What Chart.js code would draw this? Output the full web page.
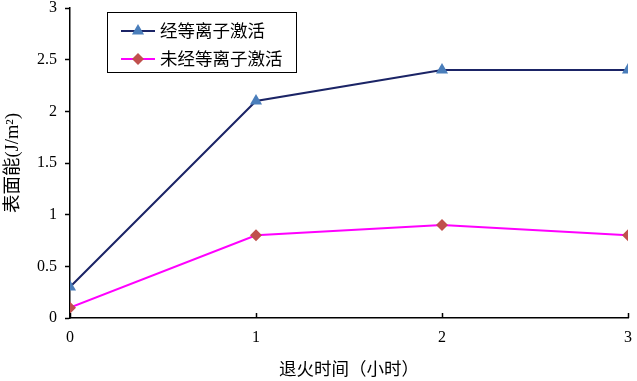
<!DOCTYPE html>
<html>
<head>
<meta charset="utf-8">
<script src="https://cdn.jsdelivr.net/npm/chart.js@4/dist/chart.umd.min.js"></script>
<style>
  html, body { margin: 0; padding: 0; background: #fff; }
  #wrap { width: 637px; height: 381px; }
</style>
</head>
<body>
<div id="wrap"><canvas id="myChart"></canvas></div>
<script>
const hours = [0, 1, 2, 3];
const activated = [0.3, 2.1, 2.4, 2.4];
const notActivated = [0.1, 0.8, 0.9, 0.8];
const seriesNames = ['经等离子激活', '未经等离子激活'];
const xTitle = '退火时间（小时）';
const yTitle = '表面能(J/m²)';

const serif = '"Liberation Serif", "Noto Sans CJK SC", serif';

// legend box plus little upward ticks on the x axis
const extras = {
  id: 'extras',
  afterDraw(chart) {
    const ctx = chart.ctx;
    const xs = chart.scales.x;
    const ys = chart.scales.y;
    ctx.save();
    ctx.strokeStyle = '#000';
    ctx.lineWidth = 1.5;
    hours.forEach(h => {
      const px = Math.round(xs.getPixelForValue(h)) + 0.5;
      ctx.beginPath();
      ctx.moveTo(px, ys.bottom);
      ctx.lineTo(px, ys.bottom - 5);
      ctx.stroke();
    });

    // legend
    ctx.lineWidth = 1;
    ctx.fillStyle = '#fff';
    ctx.fillRect(107.5, 12.5, 189, 60);
    ctx.strokeRect(107.5, 12.5, 189, 60);
    const rows = [31, 59];
    chart.data.datasets.forEach((ds, i) => {
      const y = rows[i];
      ctx.strokeStyle = ds.borderColor;
      ctx.lineWidth = 2;
      ctx.beginPath();
      ctx.moveTo(121, y);
      ctx.lineTo(155, y);
      ctx.stroke();
      ctx.fillStyle = ds.pointBackgroundColor;
      Chart.helpers.drawPoint(ctx, {
        pointStyle: ds.pointStyle,
        radius: ds.pointRadius,
        borderWidth: 0
      }, 138, y);
      ctx.fillStyle = '#000';
      ctx.font = '17.5px ' + serif;
      ctx.textBaseline = 'middle';
      ctx.textAlign = 'left';
      ctx.fillText(ds.label, 160, y + 1);
    });
    ctx.restore();
  }
};

const data = {
  datasets: [{
    label: seriesNames[0],
    data: hours.map((h, i) => ({x: h, y: activated[i]})),
    borderColor: '#1b2466',
    backgroundColor: '#4a7ebb',
    pointBackgroundColor: '#4a7ebb',
    pointBorderWidth: 0,
    pointStyle: 'triangle',
    pointRadius: 7,
    borderWidth: 2,
    tension: 0
  }, {
    label: seriesNames[1],
    data: hours.map((h, i) => ({x: h, y: notActivated[i]})),
    borderColor: '#ff00ff',
    backgroundColor: '#c0504d',
    pointBackgroundColor: '#c0504d',
    pointBorderWidth: 0,
    pointStyle: 'rectRot',
    pointRadius: 6,
    borderWidth: 2,
    tension: 0
  }]
};

const config = {
  type: 'line',
  data: data,
  options: {
    responsive: true,
    maintainAspectRatio: false,
    animation: false,
    layout: { autoPadding: false, padding: { top: 8, right: 9, bottom: 0, left: 0 } },
    plugins: {
      legend: { display: false },
      tooltip: { enabled: false }
    },
    scales: {
      x: {
        type: 'linear',
        min: 0,
        max: 3,
        ticks: {
          stepSize: 1,
          color: '#000',
          padding: 10,
          font: { family: serif, size: 16 },
          callback: v => String(v)
        },
        grid: { display: true, drawOnChartArea: false, drawTicks: false },
        border: { color: '#000', width: 1.5 },
        title: {
          display: true,
          text: xTitle,
          color: '#000',
          font: { family: serif, size: 17.5 },
          padding: { top: 0, bottom: 0 }
        },
        afterFit(scale) {
          scale.height = 63;
          scale.paddingLeft = 0;
          scale.paddingRight = 0;
        }
      },
      y: {
        min: 0,
        max: 3,
        ticks: {
          stepSize: 0.5,
          color: '#000',
          padding: 8,
          font: { family: serif, size: 16 },
          callback: v => String(v)
        },
        grid: { display: true, drawOnChartArea: false, tickLength: 5, color: '#000', tickWidth: 1.5 },
        border: { color: '#000', width: 1.5 },
        title: {
          display: true,
          text: yTitle,
          color: '#000',
          font: { family: serif, size: 18.5 },
          padding: { top: 2, bottom: 0 }
        },
        afterFit(scale) {
          scale.width = 70;
          scale.paddingTop = 0;
          scale.paddingBottom = 0;
        }
      }
    }
  },
  plugins: [extras]
};

const myChart = new Chart(
  document.getElementById('myChart'),
  config
);
</script>
</body>
</html>
